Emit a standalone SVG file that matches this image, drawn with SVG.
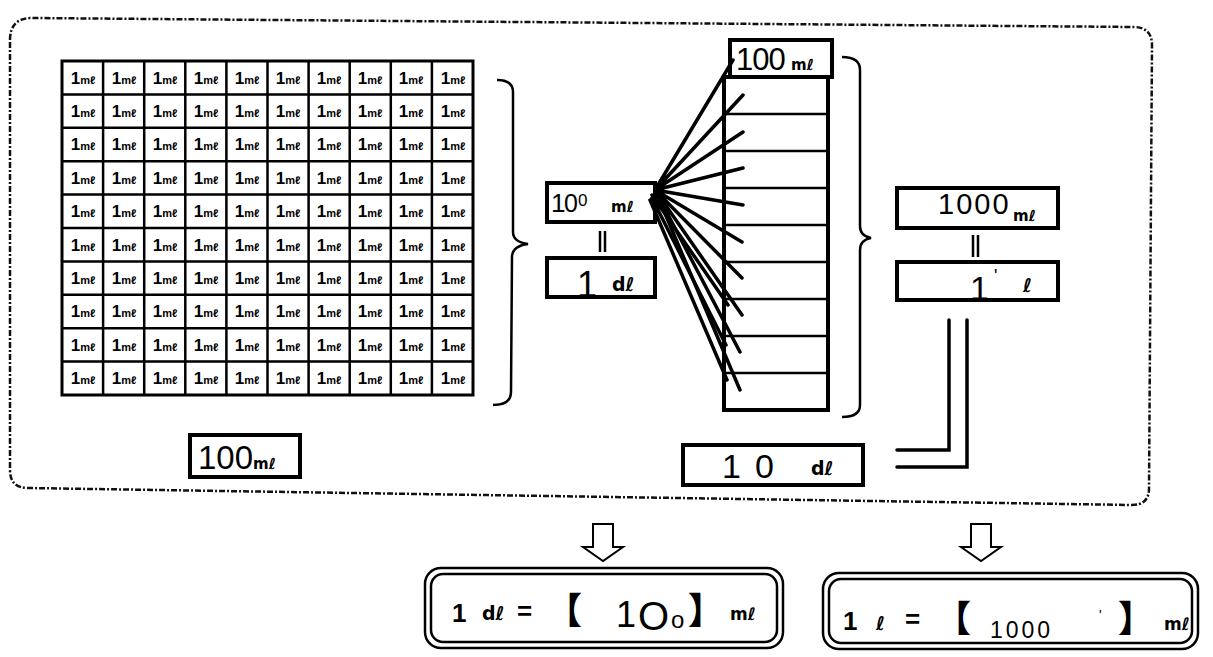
<svg xmlns="http://www.w3.org/2000/svg" width="1213" height="657" viewBox="0 0 1213 657">
<style>
.bg{fill:#fff}
.frame{fill:none;stroke:#111;stroke-width:2.5;stroke-dasharray:6 2 2 2}
.box{fill:#fff;stroke:#000;stroke-width:4}
.thin{fill:none;stroke:#000;stroke-width:2.5}
.ln{fill:none;stroke:#000;stroke-width:3.5;stroke-linecap:round}
.gl{stroke:#000;stroke-width:2.5}
.c{font-family:"Liberation Sans",Arial,sans-serif;font-weight:bold;font-size:17px;fill:#000;text-anchor:middle}
.u{font-size:11px}
.hw{font-family:"Liberation Sans",Arial,sans-serif;font-weight:normal;fill:#000}
.unit{font-family:"DejaVu Sans","Liberation Sans",sans-serif;font-weight:bold;fill:#000}
.eq{font-family:"Liberation Sans",Arial,sans-serif;font-weight:bold;font-size:26px;fill:#000}
.br{font-family:"Noto Sans CJK JP",sans-serif;font-weight:900;font-size:36px;fill:#000}
.arrow{fill:#fff;stroke:#000;stroke-width:2}
</style>
<rect class="bg" x="0" y="0" width="1213" height="657"/>

<g id="frame">
<path class="frame" d="M10,40 Q10,19 30,18 L1135,27 Q1152,28 1152,45 L1149,490 Q1148,505 1132,505 L28,488 Q10,488 10,470 Z"/>
</g>

<g id="grid">
<rect x="62" y="61" width="411" height="334" fill="#fff" stroke="#000" stroke-width="3"/>
<path class="gl" d="M103.1,61V395M144.2,61V395M185.3,61V395M226.4,61V395M267.5,61V395M308.6,61V395M349.7,61V395M390.8,61V395M431.9,61V395M62,94.4H473M62,127.8H473M62,161.2H473M62,194.6H473M62,228H473M62,261.4H473M62,294.8H473M62,328.2H473M62,361.6H473"/>
<text class="c" x="83" y="84">1<tspan class="u">mℓ</tspan></text><text class="c" x="124" y="84">1<tspan class="u">mℓ</tspan></text><text class="c" x="165" y="84">1<tspan class="u">mℓ</tspan></text><text class="c" x="206" y="84">1<tspan class="u">mℓ</tspan></text><text class="c" x="247" y="84">1<tspan class="u">mℓ</tspan></text><text class="c" x="288" y="84">1<tspan class="u">mℓ</tspan></text><text class="c" x="329" y="84">1<tspan class="u">mℓ</tspan></text><text class="c" x="370" y="84">1<tspan class="u">mℓ</tspan></text><text class="c" x="411" y="84">1<tspan class="u">mℓ</tspan></text><text class="c" x="453" y="84">1<tspan class="u">mℓ</tspan></text>
<text class="c" x="83" y="117">1<tspan class="u">mℓ</tspan></text><text class="c" x="124" y="117">1<tspan class="u">mℓ</tspan></text><text class="c" x="165" y="117">1<tspan class="u">mℓ</tspan></text><text class="c" x="206" y="117">1<tspan class="u">mℓ</tspan></text><text class="c" x="247" y="117">1<tspan class="u">mℓ</tspan></text><text class="c" x="288" y="117">1<tspan class="u">mℓ</tspan></text><text class="c" x="329" y="117">1<tspan class="u">mℓ</tspan></text><text class="c" x="370" y="117">1<tspan class="u">mℓ</tspan></text><text class="c" x="411" y="117">1<tspan class="u">mℓ</tspan></text><text class="c" x="453" y="117">1<tspan class="u">mℓ</tspan></text>
<text class="c" x="83" y="150">1<tspan class="u">mℓ</tspan></text><text class="c" x="124" y="150">1<tspan class="u">mℓ</tspan></text><text class="c" x="165" y="150">1<tspan class="u">mℓ</tspan></text><text class="c" x="206" y="150">1<tspan class="u">mℓ</tspan></text><text class="c" x="247" y="150">1<tspan class="u">mℓ</tspan></text><text class="c" x="288" y="150">1<tspan class="u">mℓ</tspan></text><text class="c" x="329" y="150">1<tspan class="u">mℓ</tspan></text><text class="c" x="370" y="150">1<tspan class="u">mℓ</tspan></text><text class="c" x="411" y="150">1<tspan class="u">mℓ</tspan></text><text class="c" x="453" y="150">1<tspan class="u">mℓ</tspan></text>
<text class="c" x="83" y="184">1<tspan class="u">mℓ</tspan></text><text class="c" x="124" y="184">1<tspan class="u">mℓ</tspan></text><text class="c" x="165" y="184">1<tspan class="u">mℓ</tspan></text><text class="c" x="206" y="184">1<tspan class="u">mℓ</tspan></text><text class="c" x="247" y="184">1<tspan class="u">mℓ</tspan></text><text class="c" x="288" y="184">1<tspan class="u">mℓ</tspan></text><text class="c" x="329" y="184">1<tspan class="u">mℓ</tspan></text><text class="c" x="370" y="184">1<tspan class="u">mℓ</tspan></text><text class="c" x="411" y="184">1<tspan class="u">mℓ</tspan></text><text class="c" x="453" y="184">1<tspan class="u">mℓ</tspan></text>
<text class="c" x="83" y="217">1<tspan class="u">mℓ</tspan></text><text class="c" x="124" y="217">1<tspan class="u">mℓ</tspan></text><text class="c" x="165" y="217">1<tspan class="u">mℓ</tspan></text><text class="c" x="206" y="217">1<tspan class="u">mℓ</tspan></text><text class="c" x="247" y="217">1<tspan class="u">mℓ</tspan></text><text class="c" x="288" y="217">1<tspan class="u">mℓ</tspan></text><text class="c" x="329" y="217">1<tspan class="u">mℓ</tspan></text><text class="c" x="370" y="217">1<tspan class="u">mℓ</tspan></text><text class="c" x="411" y="217">1<tspan class="u">mℓ</tspan></text><text class="c" x="453" y="217">1<tspan class="u">mℓ</tspan></text>
<text class="c" x="83" y="251">1<tspan class="u">mℓ</tspan></text><text class="c" x="124" y="251">1<tspan class="u">mℓ</tspan></text><text class="c" x="165" y="251">1<tspan class="u">mℓ</tspan></text><text class="c" x="206" y="251">1<tspan class="u">mℓ</tspan></text><text class="c" x="247" y="251">1<tspan class="u">mℓ</tspan></text><text class="c" x="288" y="251">1<tspan class="u">mℓ</tspan></text><text class="c" x="329" y="251">1<tspan class="u">mℓ</tspan></text><text class="c" x="370" y="251">1<tspan class="u">mℓ</tspan></text><text class="c" x="411" y="251">1<tspan class="u">mℓ</tspan></text><text class="c" x="453" y="251">1<tspan class="u">mℓ</tspan></text>
<text class="c" x="83" y="284">1<tspan class="u">mℓ</tspan></text><text class="c" x="124" y="284">1<tspan class="u">mℓ</tspan></text><text class="c" x="165" y="284">1<tspan class="u">mℓ</tspan></text><text class="c" x="206" y="284">1<tspan class="u">mℓ</tspan></text><text class="c" x="247" y="284">1<tspan class="u">mℓ</tspan></text><text class="c" x="288" y="284">1<tspan class="u">mℓ</tspan></text><text class="c" x="329" y="284">1<tspan class="u">mℓ</tspan></text><text class="c" x="370" y="284">1<tspan class="u">mℓ</tspan></text><text class="c" x="411" y="284">1<tspan class="u">mℓ</tspan></text><text class="c" x="453" y="284">1<tspan class="u">mℓ</tspan></text>
<text class="c" x="83" y="317">1<tspan class="u">mℓ</tspan></text><text class="c" x="124" y="317">1<tspan class="u">mℓ</tspan></text><text class="c" x="165" y="317">1<tspan class="u">mℓ</tspan></text><text class="c" x="206" y="317">1<tspan class="u">mℓ</tspan></text><text class="c" x="247" y="317">1<tspan class="u">mℓ</tspan></text><text class="c" x="288" y="317">1<tspan class="u">mℓ</tspan></text><text class="c" x="329" y="317">1<tspan class="u">mℓ</tspan></text><text class="c" x="370" y="317">1<tspan class="u">mℓ</tspan></text><text class="c" x="411" y="317">1<tspan class="u">mℓ</tspan></text><text class="c" x="453" y="317">1<tspan class="u">mℓ</tspan></text>
<text class="c" x="83" y="351">1<tspan class="u">mℓ</tspan></text><text class="c" x="124" y="351">1<tspan class="u">mℓ</tspan></text><text class="c" x="165" y="351">1<tspan class="u">mℓ</tspan></text><text class="c" x="206" y="351">1<tspan class="u">mℓ</tspan></text><text class="c" x="247" y="351">1<tspan class="u">mℓ</tspan></text><text class="c" x="288" y="351">1<tspan class="u">mℓ</tspan></text><text class="c" x="329" y="351">1<tspan class="u">mℓ</tspan></text><text class="c" x="370" y="351">1<tspan class="u">mℓ</tspan></text><text class="c" x="411" y="351">1<tspan class="u">mℓ</tspan></text><text class="c" x="453" y="351">1<tspan class="u">mℓ</tspan></text>
<text class="c" x="83" y="384">1<tspan class="u">mℓ</tspan></text><text class="c" x="124" y="384">1<tspan class="u">mℓ</tspan></text><text class="c" x="165" y="384">1<tspan class="u">mℓ</tspan></text><text class="c" x="206" y="384">1<tspan class="u">mℓ</tspan></text><text class="c" x="247" y="384">1<tspan class="u">mℓ</tspan></text><text class="c" x="288" y="384">1<tspan class="u">mℓ</tspan></text><text class="c" x="329" y="384">1<tspan class="u">mℓ</tspan></text><text class="c" x="370" y="384">1<tspan class="u">mℓ</tspan></text><text class="c" x="411" y="384">1<tspan class="u">mℓ</tspan></text><text class="c" x="453" y="384">1<tspan class="u">mℓ</tspan></text>
</g>

<g id="label-100ml">
<rect class="box" x="190" y="435" width="110" height="42" stroke-width="4.5"/>
<text class="hw" x="198" y="469" font-size="33">100</text>
<text class="unit" x="253" y="469" font-size="15">mℓ</text>
</g>

<g id="column">
<rect class="box" x="724" y="77" width="104" height="333"/>
<path class="gl" stroke-width="3" d="M724,114H828M724,151H828M724,188H828M724,225H828M724,262H828M724,299H828M724,336H828M724,373H828"/>
</g>

<g id="cell-100ml">
<rect class="box" x="730" y="40" width="102" height="37" stroke-width="3.5"/>
<text class="hw" x="736" y="70" font-size="31" letter-spacing="-1">100</text>
<text class="unit" x="791" y="70" font-size="15">mℓ</text>
</g>

<g id="box-ml">
<rect class="box" x="547" y="183" width="108" height="39"/>
<text class="hw" x="551" y="212" font-size="26" font-weight="bold">1</text>
<text class="hw" x="564" y="212" font-size="25">0<tspan font-size="17" dy="-6">0</tspan></text>
<text class="unit" x="611" y="212" font-size="15">mℓ</text>
</g>

<g id="box-dl">
<rect class="box" x="547" y="258" width="108" height="39"/>
<text class="hw" x="577" y="297" font-size="36">1</text>
<text class="unit" x="612" y="291" font-size="19">dℓ</text>
</g>

<g id="box-1000ml">
<rect class="box" x="897" y="188" width="161" height="40"/>
<text class="hw" x="938" y="214" font-size="29" letter-spacing="2">1000</text>
<text class="unit" x="1013" y="221" font-size="15">mℓ</text>
</g>

<g id="box-l">
<rect class="box" x="897" y="262" width="161" height="38"/>
<text class="hw" x="970" y="300" font-size="34">1</text>
<text class="hw" x="994" y="282" font-size="18">'</text>
<text class="unit" x="1023" y="292" font-size="19">ℓ</text>
</g>

<g id="box-10dl">
<rect class="box" x="683" y="445" width="180" height="40"/>
<text class="hw" x="722" y="478" font-size="34">1</text>
<text class="hw" x="755" y="478" font-size="34">0</text>
<text class="unit" x="811" y="475" font-size="19">dℓ</text>
</g>

<g id="result-dl">
<rect class="thin" x="425" y="568" width="358" height="80" rx="16"/>
<rect class="thin" x="431" y="574" width="346" height="68" rx="12"/>
<text class="eq" x="452" y="622">1</text>
<text class="unit" x="482" y="620" font-size="19">dℓ</text>
<text class="eq" x="517" y="620">=</text>
<text class="br" x="546" y="624">【</text>
<text class="hw" x="616" y="627" font-size="36">1</text>
<text class="hw" x="638" y="630" font-size="40">O</text>
<text class="hw" x="671" y="628" font-size="24">o</text>
<text class="br" x="688" y="624">】</text>
<text class="unit" x="730" y="620" font-size="17">mℓ</text>
</g>

<g id="result-l">
<rect class="thin" x="823" y="573" width="375" height="76" rx="16"/>
<rect class="thin" x="829" y="579" width="363" height="64" rx="12"/>
<text class="eq" x="843" y="630">1</text>
<text class="unit" x="876" y="630" font-size="19">ℓ</text>
<text class="eq" x="905" y="628">=</text>
<text class="br" x="935" y="632">【</text>
<text class="hw" x="990" y="638" font-size="23" letter-spacing="3">1000</text>
<text class="hw" x="1099" y="620" font-size="14">'</text>
<text class="br" x="1118" y="632">】</text>
<text class="unit" x="1164" y="630" font-size="17">mℓ</text>
</g>

<g id="connectors">
<path class="ln" d="M655,190L733,60M655,190L743,95M655,190L743,132M655,190L743,168M655,190L743,205M655,190L742,242M655,190L742,278M655,190L742,315M655,190L740,352M655,190L740,390"/>
<path class="ln" stroke-width="2.5" d="M652,198L726,345M650,200L727,380M652,195L728,305"/>
<path class="thin" d="M497,80Q513,80 513,92L513,232Q513,242 528,244Q513,246 512,256L511,392Q511,405 493,405"/>
<path class="thin" d="M842,57Q860,57 860,70L860,226Q860,236 871,238Q860,240 860,250L860,405Q860,417 842,417"/>
<path class="gl" stroke-width="3" d="M600,231V252M605,231V252M973,235V257M978,235V257"/>
<path class="ln" stroke-width="4" stroke-linecap="butt" d="M897,450H949V320M897,467H967V320"/>
<polygon class="arrow" points="593,524 613,524 613,547 623,547 603,561 583,547 593,547"/>
<polygon class="arrow" points="971,524 991,524 991,547 1001,547 981,561 961,547 971,547"/>
</g>
</svg>
